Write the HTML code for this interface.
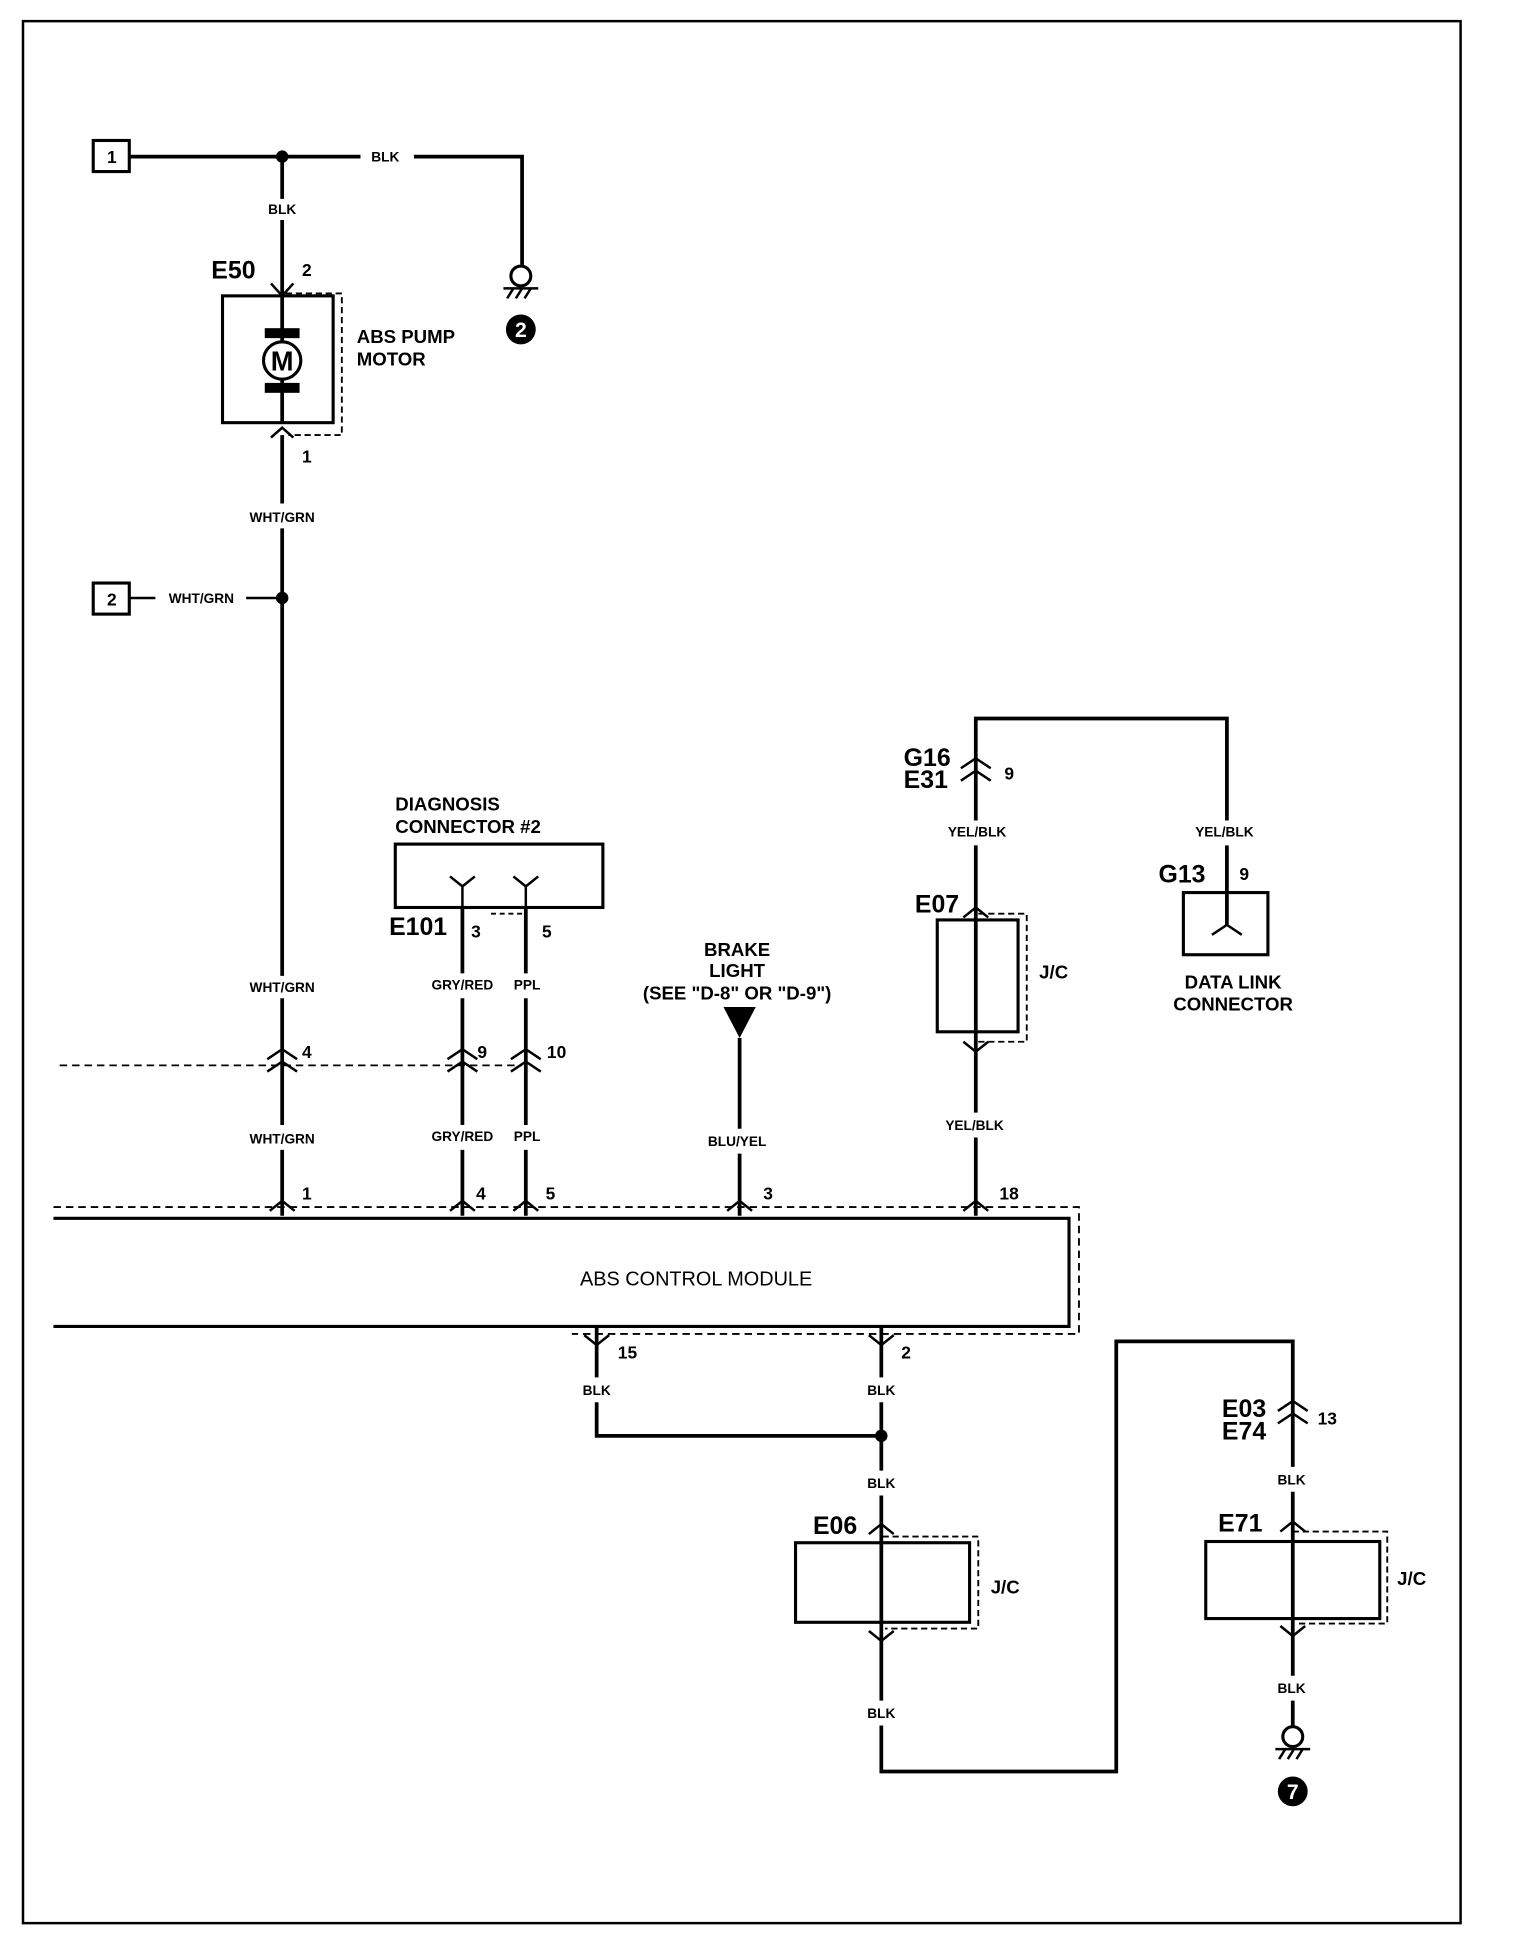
<!DOCTYPE html>
<html><head><meta charset="utf-8"><style>
html,body{margin:0;padding:0;background:#fff}
svg{display:block}
text{font-family:"Liberation Sans",Arial,sans-serif;fill:#000}
.s{font-size:11px;font-weight:bold}
.m{font-size:15px;font-weight:bold}
.b{font-size:20px;font-weight:bold}
.n{font-size:14px;font-weight:bold}
</style></head><body>
<svg width="1520" height="1948" viewBox="0 0 1222.8 1567" preserveAspectRatio="none" xmlns="http://www.w3.org/2000/svg">
<g fill="none" stroke="#000">
<rect x="18.5" y="17" width="1156.5" height="1530" stroke-width="2"/>
<rect x="75" y="113" width="29" height="25" stroke-width="2.5"/>
<path d="M104 126H290M333 126H420V215" stroke-width="3"/>
<path d="M227 126V160M227 177V340M227 350V405M227 425V785M227 803V905M227 925V978" stroke-width="3"/>
<rect x="179" y="238" width="89" height="102" stroke-width="2.5"/>
<path d="M230 236H275V350H232" stroke-width="1.5" stroke-dasharray="5,3"/>
<path d="M218 228L227 238L236 228M218 352L227 344L236 352" stroke-width="2"/>
<circle cx="419" cy="222" r="8" stroke-width="2.5"/>
<path d="M405 232H433M408 240L413 232M415 240L420 232M422 240L427 232" stroke-width="2"/>
<rect x="75" y="469" width="29" height="25" stroke-width="2.5"/>
<path d="M104 481H125M198 481H227" stroke-width="2"/>
<path d="M48 857H420" stroke-width="1.5" stroke-dasharray="6,4"/>
<path d="M215 852L227 844L239 852M215 862L227 854L239 862M360 852L372 844L384 852M360 862L372 854L384 862M411 852L423 844L435 852M411 862L423 854L435 862" stroke-width="2"/>
<rect x="318" y="679" width="167" height="51" stroke-width="2.5"/>
<path d="M362 705L372 713L382 705M372 713V730M413 705L423 713L433 705M423 713V730" stroke-width="2"/>
<path d="M395 735H423" stroke-width="1.5" stroke-dasharray="4,3"/>
<path d="M372 730V783M423 730V783M372 803V905M423 803V905M372 925V978M423 925V978" stroke-width="3"/>
<path d="M595 835V908M595 928V978" stroke-width="3"/>
<path d="M43 971H868V1073H460" stroke-width="1.5" stroke-dasharray="6,4"/>
<path d="M43 980H860V1067H43" stroke-width="2.5"/>
<path d="M217 974L227 966L237 974M362 974L372 966L382 974M413 974L423 966L433 974M585 974L595 966L605 974M775 974L785 966L795 974" stroke-width="2"/>
<path d="M470 1074L480 1082L490 1074M699 1074L709 1082L719 1074" stroke-width="2"/>
<path d="M480 1067V1108M709 1067V1108M480 1128V1155H709M709 1128V1183M709 1203V1368M709 1388V1425H898V1079H1040V1180M1040 1200V1348M1040 1368V1390" stroke-width="3"/>
<rect x="640" y="1241" width="140" height="64" stroke-width="2.5"/>
<path d="M710 1236H787V1310H712" stroke-width="1.5" stroke-dasharray="5,3"/>
<path d="M699 1234L709 1226L719 1234M699 1312L709 1320L719 1312" stroke-width="2"/>
<path d="M1028 1135L1040 1127L1052 1135M1028 1145L1040 1137L1052 1145" stroke-width="2"/>
<rect x="970" y="1240" width="140" height="62" stroke-width="2.5"/>
<path d="M1040 1232H1116V1306H1042" stroke-width="1.5" stroke-dasharray="5,3"/>
<path d="M1030 1232L1040 1224L1050 1232M1030 1308L1040 1316L1050 1308" stroke-width="2"/>
<circle cx="1040" cy="1397" r="8" stroke-width="2.5"/>
<path d="M1026 1407H1054M1029 1415L1034 1407M1036 1415L1041 1407M1043 1415L1048 1407" stroke-width="2"/>
<path d="M785 660V578H987V660M785 680V895M785 915V978M987 680V745" stroke-width="3"/>
<path d="M773 618L785 610L797 618M773 628L785 620L797 628" stroke-width="2"/>
<rect x="754" y="740" width="65" height="90" stroke-width="2.5"/>
<path d="M787 735H826V838H787" stroke-width="1.5" stroke-dasharray="5,3"/>
<path d="M775 738L785 730L795 738M775 838L785 846L795 838" stroke-width="2"/>
<rect x="952" y="718" width="68" height="50" stroke-width="2.5"/>
<path d="M975 752L987 744L999 752" stroke-width="2"/>
</g>
<g fill="#000">
<circle cx="227" cy="126" r="5"/>
<circle cx="227" cy="481" r="5"/>
<circle cx="709" cy="1155" r="5"/>
<rect x="213" y="264" width="28" height="8"/>
<rect x="213" y="308" width="28" height="8"/>
<circle cx="419" cy="265" r="12"/>
<circle cx="1040" cy="1441" r="12"/>
<path d="M582 810H608L595 835Z"/>
</g>
<circle cx="227" cy="290" r="15" fill="#fff" stroke="#000" stroke-width="2.5"/>
<text x="227" y="298" text-anchor="middle" style="font-size:22px;font-weight:bold">M</text>
<text x="419" y="271" text-anchor="middle" style="font-size:17px;font-weight:bold;fill:#fff">2</text>
<text x="1040" y="1447" text-anchor="middle" style="font-size:17px;font-weight:bold;fill:#fff">7</text>
<g class="n" text-anchor="middle">
<text x="90" y="131">1</text><text x="90" y="487">2</text>
</g>
<g class="s" text-anchor="middle">
<text x="310" y="130">BLK</text><text x="227" y="172">BLK</text>
<text x="227" y="420">WHT/GRN</text><text x="162" y="485">WHT/GRN</text>
<text x="227" y="798">WHT/GRN</text><text x="227" y="920">WHT/GRN</text>
<text x="372" y="796">GRY/RED</text><text x="372" y="918">GRY/RED</text>
<text x="424" y="796">PPL</text><text x="424" y="918">PPL</text>
<text x="593" y="922">BLU/YEL</text>
<text x="786" y="673">YEL/BLK</text><text x="985" y="673">YEL/BLK</text>
<text x="784" y="909">YEL/BLK</text>
<text x="480" y="1122">BLK</text><text x="709" y="1122">BLK</text>
<text x="709" y="1197">BLK</text><text x="709" y="1382">BLK</text>
<text x="1039" y="1194">BLK</text><text x="1039" y="1362">BLK</text>
</g>
<g class="n">
<text x="243" y="222">2</text><text x="243" y="372">1</text>
<text x="243" y="851">4</text><text x="384" y="851">9</text><text x="440" y="851">10</text>
<text x="379" y="754">3</text><text x="436" y="754">5</text>
<text x="243" y="965">1</text><text x="383" y="965">4</text><text x="439" y="965">5</text>
<text x="614" y="965">3</text><text x="804" y="965">18</text>
<text x="497" y="1093">15</text><text x="725" y="1093">2</text>
<text x="1060" y="1146">13</text>
<text x="808" y="627">9</text><text x="997" y="708">9</text>
<text x="836" y="787" style="font-size:15px">J/C</text>
<text x="797" y="1282" style="font-size:15px">J/C</text>
<text x="1124" y="1275" style="font-size:15px">J/C</text>
</g>
<g class="b">
<text x="170" y="224">E50</text>
<text x="313" y="752">E101</text>
<text x="736" y="734">E07</text>
<text x="932" y="710">G13</text>
<text x="727" y="616">G16</text><text x="727" y="634">E31</text>
<text x="654" y="1234">E06</text>
<text x="980" y="1232">E71</text>
<text x="983" y="1140">E03</text><text x="983" y="1158">E74</text>
</g>
<g class="m">
<text x="287" y="276">ABS PUMP</text><text x="287" y="294">MOTOR</text>
<text x="318" y="652">DIAGNOSIS</text><text x="318" y="670">CONNECTOR #2</text>
</g>
<g class="m" text-anchor="middle">
<text x="593" y="769">BRAKE</text><text x="593" y="786">LIGHT</text>
<text x="593" y="804">(SEE "D-8" OR "D-9")</text>
<text x="992" y="795">DATA LINK</text><text x="992" y="813">CONNECTOR</text>
<text x="560" y="1034" style="font-size:16px;font-weight:normal">ABS CONTROL MODULE</text>
</g>
</svg>
</body></html>
